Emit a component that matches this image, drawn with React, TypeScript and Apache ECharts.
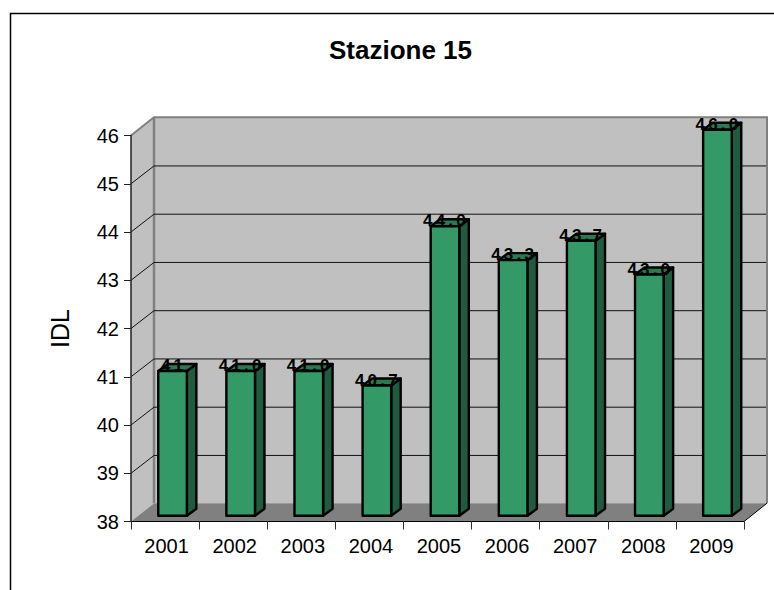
import React, { useEffect, useRef } from "react";
import * as echarts from "echarts";

const titleText = "Stazione 15";
const yAxisName = "IDL";
const categories = ["2001", "2002", "2003", "2004", "2005", "2006", "2007", "2008", "2009"];
const values = [41, 41, 41, 40.7, 44, 43.3, 43.7, 43, 46];
const valueLabels = ["41", "41.0", "41.0", "40.7", "44.0", "43.3", "43.7", "43.0", "46.0"];
const gridTicks = [39, 40, 41, 42, 43, 44, 45];

const WALL_DX = 23;
const WALL_DY = -18.3;
const GRID_BACK_DY = -17.8;
const BAR_DX = 7.5;
const BAR_DY = -5.7;
const DEPTH_DX = 9.5;
const DEPTH_DY = -7;
const BAR_RATIO = 0.42;
const FONT = '"Liberation Sans", Arial, sans-serif';

const renderWalls = (params: any, api: any) => {
  const { x, y, width, height } = params.coordSys;
  const r = x + width;
  const b = y + height;
  const dx = WALL_DX;
  const dy = WALL_DY;
  const edge = { stroke: "#808080", lineWidth: 2, fill: "none" };
  return {
    type: "group",
    children: [
      { type: "polygon", shape: { points: [[x, y], [x + dx, y + dy], [x + dx, b + dy], [x, b]] }, style: { fill: "#C0C0C0" } },
      { type: "rect", shape: { x: x + dx, y: y + dy, width, height }, style: { fill: "#C0C0C0" } },
      { type: "polygon", shape: { points: [[x, b], [x + dx, b + dy], [r + dx, b + dy], [r, b]] }, style: { fill: "#808080" } },
      { type: "polyline", shape: { points: [[x, y], [x + dx, y + dy], [r + dx, y + dy], [r + dx, b + dy]] }, style: edge },
      { type: "line", shape: { x1: x + dx, y1: y + dy, x2: x + dx, y2: b + dy }, style: { stroke: "#808080", lineWidth: 2.5 } },
      { type: "line", shape: { x1: r, y1: b, x2: r + dx, y2: b + dy }, style: { stroke: "#000", lineWidth: 1 } },
    ],
  };
};

const renderGrid = (params: any, api: any) => {
  const { x, width } = params.coordSys;
  const y = api.coord([0, api.value(0)])[1];
  return {
    type: "polyline",
    shape: { points: [[x, y], [x + WALL_DX, y + GRID_BACK_DY], [x + width + WALL_DX - 1, y + GRID_BACK_DY]] },
    style: { stroke: "#111", lineWidth: 1, fill: "none" },
  };
};

const renderBar = (params: any, api: any) => {
  const idx = api.value(0);
  const top = api.coord([idx, api.value(1)]);
  const base = api.coord([idx, 38]);
  const w = api.size([1, 0])[0] * BAR_RATIO;
  const l = top[0] - w / 2 + BAR_DX;
  const r = l + w;
  const t = top[1] + BAR_DY;
  const b = base[1] + BAR_DY;
  const line = { stroke: "#000", lineWidth: 2.4, lineJoin: "round" };
  return {
    type: "group",
    children: [
      { type: "polygon", shape: { points: [[r, t], [r + DEPTH_DX, t + DEPTH_DY], [r + DEPTH_DX, b + DEPTH_DY], [r, b]] }, style: { fill: "#1E5B3F", ...line } },
      { type: "polygon", shape: { points: [[l, t], [l + DEPTH_DX, t + DEPTH_DY], [r + DEPTH_DX, t + DEPTH_DY], [r, t]] }, style: { fill: "#297A52", ...line } },
      { type: "rect", shape: { x: l, y: t, width: w, height: b - t }, style: { fill: "#339966", ...line } },
      {
        type: "text",
        style: {
          text: valueLabels[idx],
          x: (l + r) / 2 + 1,
          y: t + 3,
          font: `bold 17px ${FONT}`,
          fill: "#000",
          textAlign: "center",
          textVerticalAlign: "bottom",
        },
      },
    ],
  };
};

export default function App() {
  const ref = useRef<HTMLDivElement>(null);
  useEffect(() => {
    document.body.style.margin = "0";
    const chart = echarts.init(ref.current!, null, { renderer: "svg" });
    chart.setOption({
      animation: false,
      backgroundColor: "#fff",
      title: {
        text: titleText,
        left: 395.5,
        top: 32,
        textAlign: "center",
        textStyle: { fontFamily: FONT, fontSize: 26, fontWeight: "bold", color: "#000" },
      },
      grid: { left: 131, right: 30, top: 135.5, bottom: 68.5 },
      xAxis: {
        type: "category",
        data: categories,
        z: 5,
        axisLine: { lineStyle: { color: "#000", width: 1 } },
        axisTick: { show: true, length: 8, alignWithLabel: false, lineStyle: { color: "#333", width: 1 } },
        axisLabel: { color: "#000", fontFamily: FONT, fontSize: 20, margin: 14, padding: [0, 0, 0, 3] },
      },
      yAxis: {
        type: "value",
        min: 38,
        max: 46,
        interval: 1,
        z: 5,
        name: yAxisName,
        nameLocation: "middle",
        nameRotate: 90,
        nameGap: 58.5,
        nameTextStyle: { color: "#000", fontFamily: FONT, fontSize: 25 },
        splitLine: { show: false },
        axisLine: { show: true, lineStyle: { color: "#222", width: 1.5 } },
        axisTick: { show: true, length: 7, lineStyle: { color: "#222", width: 1 } },
        axisLabel: { color: "#000", fontFamily: FONT, fontSize: 20, margin: 12 },
      },
      graphic: [
        {
          type: "polyline",
          silent: true,
          shape: { points: [[10.5, 590], [10.5, 13.5], [774, 13.5]] },
          style: { stroke: "#000", lineWidth: 1.5, fill: "none" },
        },
      ],
      series: [
        { type: "custom", z: 1, silent: true, renderItem: renderWalls, data: [[0, 38]], encode: { x: 0, y: 1 } },
        { type: "custom", z: 2, silent: true, renderItem: renderGrid, data: gridTicks.map((t) => [t]), encode: { y: 0 } },
        {
          type: "custom",
          z: 3,
          silent: true,
          renderItem: renderBar,
          data: values.map((v, i) => [i, v]),
          encode: { x: 0, y: 1 },
        },
      ],
    });
    return () => chart.dispose();
  }, []);
  return (
    <>
      <style>{`text[style*="bold 17px"]{letter-spacing:3.2px}`}</style>
      <div ref={ref} style={{ position: "absolute", left: 0, top: 0, width: 774, height: 590 }} />
    </>
  );
}
